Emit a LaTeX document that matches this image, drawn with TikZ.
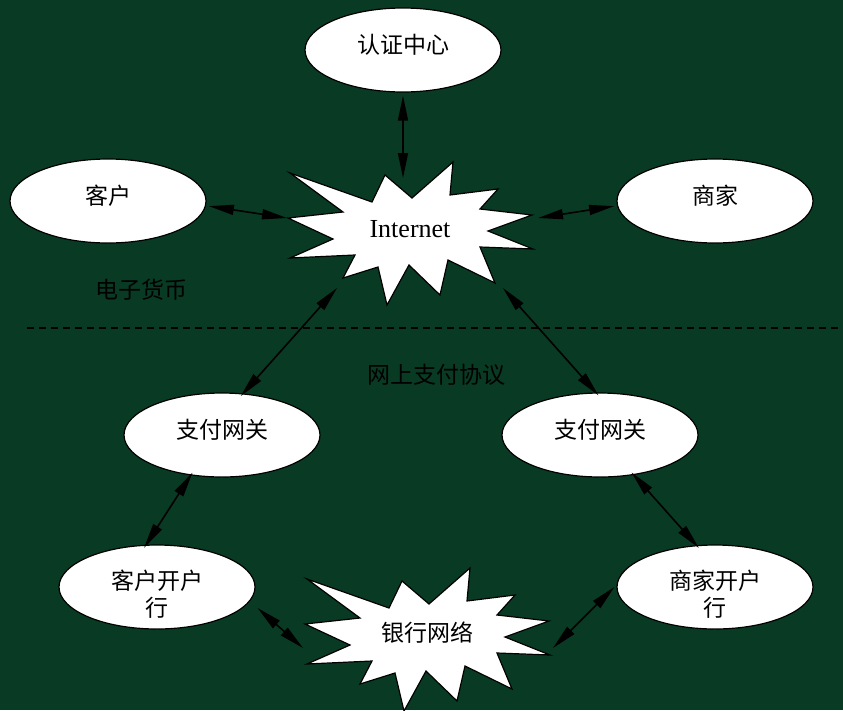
\documentclass[tikz,border=0pt]{standalone}
\usepackage{fontspec}
\setmainfont{Liberation Serif}
\newfontfamily\cjk{Noto Sans CJK SC}
\usetikzlibrary{shapes,arrows.meta,positioning}
\definecolor{bgc}{RGB}{9,58,36}

\begin{document}
\begin{tikzpicture}[x=1pt,y=-1pt,% pixel grid, y runs downwards
		every node/.style={
			align=center,		% "\\" breaks the bank names
			font=\cjk\fontsize{23}{27}\selectfont
		},
		oval/.style={ellipse,draw=black,line width=1.2pt,fill=white,
			minimum width=196pt,minimum height=84pt,inner sep=0pt,
			text height=20pt,text depth=13pt},
		oval2/.style={oval,text height=58pt,text depth=0pt},
		>={Triangle[length=25pt,width=10pt]},
		every edge/.style={draw,line width=1.6pt},
		burst/.pic={
			\draw[line width=1.2pt,fill=white,line join=miter]
			(-120,-61) -- (-38,-32) -- (-25,-59) -- (2,-36) -- (43,-72) -- (40,-39)
			-- (88,-45) -- (70,-25) -- (122,-19) -- (78,-3) -- (123,15) -- (70,13)
			-- (85,49) -- (38,26) -- (30,61) -- (-1,31) -- (-23,71) -- (-32,33)
			-- (-67,44) -- (-55,21) -- (-120,24) -- (-77,5) -- (-122,-16) -- (-67,-22)
			-- cycle;
		}
	]
	\fill[bgc] (0,0) rectangle (843,710);
	\useasboundingbox (0,0) rectangle (843,710);

	% the two bursts
	\pic at (410,234) {burst};
	\pic at (427,640) {burst};
	\node[font=\fontsize{26}{30}\selectfont](net) at (410,229) {Internet};
	\node(bank) at (427,633) {银行网络};

	% coordinates on the bursts
	\coordinate (netN) at (403,178);
	\coordinate (netW) at (287,218);
	\coordinate (netE) at (538,218);
	\coordinate (netSW) at (337,288);
	\coordinate (netSE) at (503,288);
	\coordinate (bankW) at (303,648);
	\coordinate (bankE) at (553,648);

	\node[oval](ca) at (403,50) {认证中心};
	\node[oval](kh) at (108,201) {客户};
	\node[oval](sj) at (715,201) {商家};
	\node[oval](gwL) at (222,435) {支付网关};
	\node[oval](gwR) at (600,435) {支付网关};
	\node[oval2](khb) at (157,587) {客户开户\\行};
	\node[oval2](sjb) at (715,587) {商家开户\\行};

	\node(ecash) at (141,290) {电子货币};
	\node(proto) at (436,375) {网上支付协议};
	\coordinate (dashL) at (27,328);
	\coordinate (dashR) at (843,328);
	\draw[line width=1.3pt,dash pattern=on 7pt off 5pt] (dashL) -- (dashR);

	\path[<->]
	([yshift=-3]ca.south) edge (netN)
	([xshift=3]kh.-3) edge (netW)
	([xshift=-3]sj.183) edge (netE)
	([yshift=-3]gwL.66) edge (netSW)
	([yshift=-3]gwR.92) edge (netSE)
	([yshift=3]gwL.234) edge ([yshift=-3]khb.107)
	([yshift=3]gwR.308) edge ([yshift=-3]sjb.111)
	([shift={(2,21)}]khb.east) edge (bankW)
	([xshift=-2]sjb.west) edge (bankE)
	;
\end{tikzpicture}
\end{document}
